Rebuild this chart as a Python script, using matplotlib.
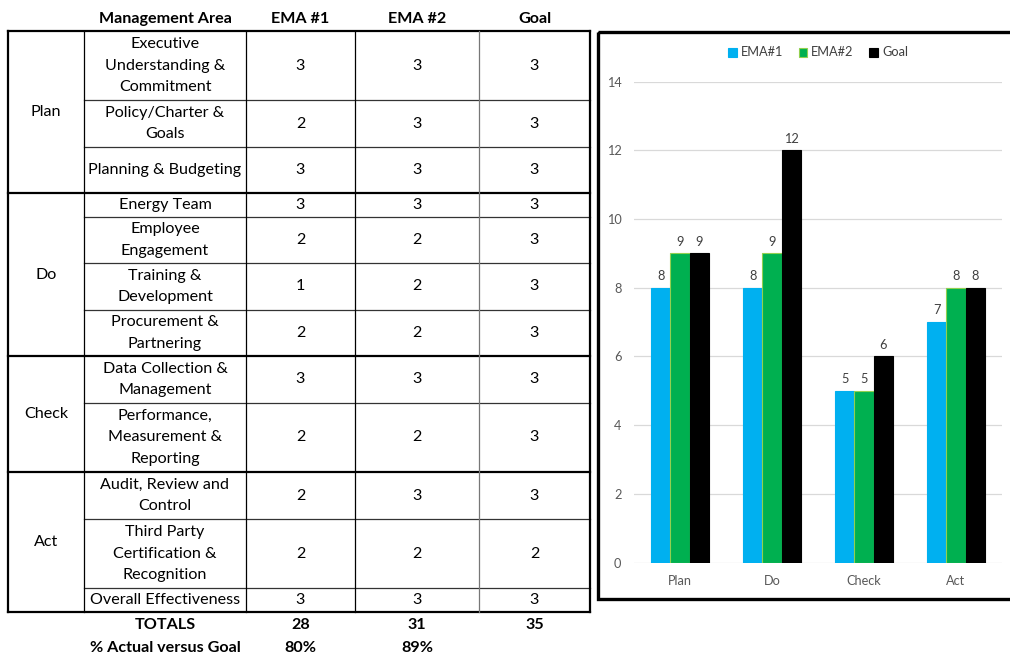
import numpy as np
import matplotlib.pyplot as plt
from matplotlib.patches import Rectangle

plt.rcParams['font.family'] = ['Lato', 'DejaVu Sans']

# table data
headers = ['Management Area', 'EMA #1', 'EMA #2', 'Goal']
groups = ['Plan', 'Do', 'Check', 'Act']
group_sizes = [3, 4, 2, 3]
areas = ['Executive\nUnderstanding &\nCommitment', 'Policy/Charter &\nGoals',
         'Planning & Budgeting', 'Energy Team', 'Employee\nEngagement',
         'Training &\nDevelopment', 'Procurement &\nPartnering',
         'Data Collection &\nManagement', 'Performance,\nMeasurement &\nReporting',
         'Audit, Review and\nControl', 'Third Party\nCertification &\nRecognition',
         'Overall Effectiveness']
row_units = [3, 2, 2, 1, 2, 2, 2, 2, 3, 2, 3, 1]
ema1 = [3, 2, 3, 3, 2, 1, 2, 3, 2, 2, 2, 3]
ema2 = [3, 3, 3, 3, 2, 2, 2, 3, 2, 3, 2, 3]
goal = [3, 3, 3, 3, 3, 3, 3, 3, 3, 3, 2, 3]

# chart data
series_names = ['EMA#1', 'EMA#2', 'Goal']
chart_ema1 = [8, 8, 5, 7]
chart_ema2 = [9, 9, 5, 8]
chart_goal = [9, 12, 6, 8]

fig = plt.figure(figsize=(10.1, 6.56), dpi=100)

# canvas axes in pixel coords for the table
tab = fig.add_axes([0, 0, 1, 1])
tab.set_xlim(0, 1010)
tab.set_ylim(656, 0)
tab.axis('off')

col_x = [8, 84, 246, 355, 479, 590]
top = 30.7
unit = 23.24
fs = 11.6
thin = 0.9
thick = 1.6

# header
for i, h in enumerate(headers):
    cx = (col_x[i + 1] + col_x[i + 2]) / 2
    tab.text(cx, 19, h, ha='center', va='center', fontsize=fs, fontweight='bold')

bounds = top + unit * np.concatenate([[0], np.cumsum(row_units)])
bottom = bounds[-1]

# rows
for r in range(len(areas)):
    y0, y1 = bounds[r], bounds[r + 1]
    cy = (y0 + y1) / 2
    tab.text((col_x[1] + col_x[2]) / 2, cy, areas[r], ha='center', va='center',
             fontsize=fs, linespacing=1.68)
    for j, vals in enumerate([ema1, ema2, goal]):
        tab.text((col_x[j + 2] + col_x[j + 3]) / 2, cy, str(vals[r]),
                 ha='center', va='center', fontsize=fs)

# groups and horizontal lines
start = 0
group_edges = [0]
for g, n in zip(groups, group_sizes):
    y0, y1 = bounds[start], bounds[start + n]
    tab.text((col_x[0] + col_x[1]) / 2, (y0 + y1) / 2, g, ha='center', va='center', fontsize=fs)
    for k in range(start + 1, start + n):
        tab.plot([col_x[1], col_x[-1]], [bounds[k], bounds[k]], color='#333333', lw=thin)
    start += n
    group_edges.append(start)
for k in group_edges:
    tab.plot([col_x[0], col_x[-1]], [bounds[k], bounds[k]], color='black', lw=thick)

# vertical lines
for i, x in enumerate(col_x):
    lw = thick if i in (0, len(col_x) - 1) else thin
    c = '#777777' if i == 4 else 'black'
    tab.plot([x, x], [top, bottom], color=c, lw=lw)

# totals
totals = [sum(ema1), sum(ema2), sum(goal)]
pcts = [round(100 * t / totals[2]) for t in totals[:2]]
tab.text((col_x[1] + col_x[2]) / 2, 625, 'TOTALS', ha='center', va='center', fontsize=fs, fontweight='bold')
tab.text((col_x[1] + col_x[2]) / 2, 648, '% Actual versus Goal', ha='center', va='center', fontsize=fs, fontweight='bold')
for j, t in enumerate(totals):
    tab.text((col_x[j + 2] + col_x[j + 3]) / 2, 625, str(t), ha='center', va='center', fontsize=fs, fontweight='bold')
for j, p in enumerate(pcts):
    tab.text((col_x[j + 2] + col_x[j + 3]) / 2, 648, f'{p}%', ha='center', va='center', fontsize=fs, fontweight='bold')

# chart frame
tab.add_patch(Rectangle((598, 31.5), 430, 567, fill=False, edgecolor='black', lw=2.4, clip_on=False))

# bar chart
ax = fig.add_axes([634 / 1010, (656 - 562.5) / 656, 368 / 1010, (562.5 - 81.5) / 656])
ax.set_facecolor('none')
x = np.arange(len(groups))
w = 0.207
colors = ['#00B0F0', '#00B050', 'black']
edges = ['#00B0F0', '#92D050', 'black']
for i, (vals, name) in enumerate(zip([chart_ema1, chart_ema2, chart_goal], series_names)):
    bars = ax.bar(x + (i - 1) * w, vals, w, color=colors[i], edgecolor=edges[i],
                  linewidth=0.8, label=name, zorder=3)
    for b, v in zip(bars, vals):
        ax.annotate(str(v), (b.get_x() + b.get_width() / 2, v), xytext=(0, 4),
                    textcoords='offset points', ha='center', va='bottom',
                    fontsize=9.2, color='#404040')

ax.set_xlim(-0.5, 3.5)
ax.set_ylim(0, 14)
ax.set_yticks(np.arange(0, 15, 2))
ax.set_xticks(x)
ax.set_xticklabels(groups)
ax.grid(axis='y', color='#D9D9D9', lw=0.9, zorder=0)
for s in ax.spines.values():
    s.set_visible(False)
ax.tick_params(length=0, labelsize=9.2, labelcolor='#595959', pad=9)
ax.tick_params(axis='y', pad=9)
ax.legend(loc='center', bbox_to_anchor=(0.5, 1.0 + 29 / 481), ncol=3, frameon=False,
          fontsize=9.2, handlelength=0.7, handleheight=0.7, handletextpad=0.3,
          columnspacing=1.2, labelcolor='#404040')

fig.savefig('out.png', dpi=100)
